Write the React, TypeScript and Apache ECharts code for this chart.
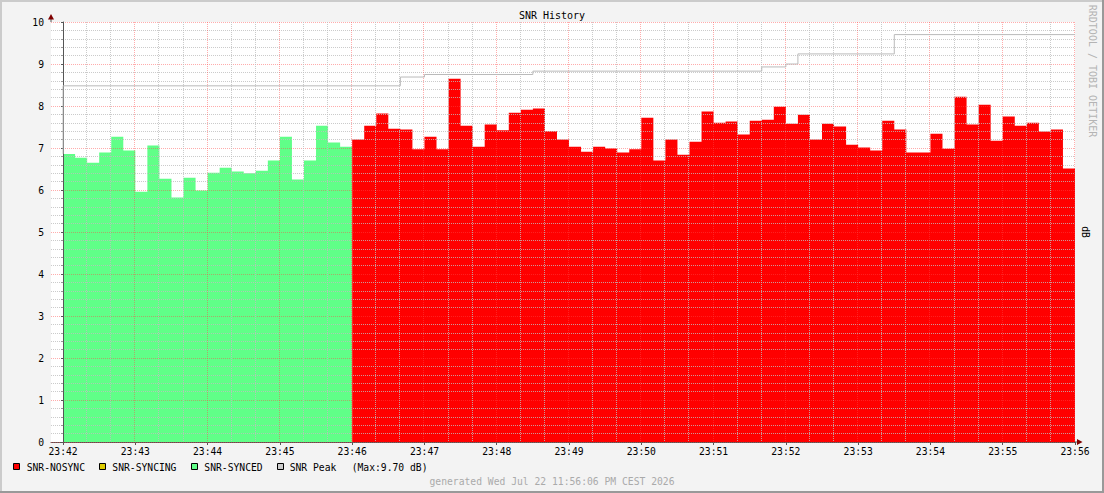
import React, { useEffect, useRef } from "react";
import * as echarts from "echarts";

const FONT = "'DejaVu Sans Mono', monospace";

// seconds per sample (10 s steps); x values are seconds after 23:42:00
const STEP = 10;

// SNR-SYNCED samples, 23:42:00 .. 23:46:00
const syncedSNR = [
  6.86, 6.77, 6.65, 6.89, 7.27, 6.94, 5.96, 7.06, 6.27, 5.82, 6.29, 5.99,
  6.41, 6.53, 6.44, 6.4, 6.46, 6.7, 7.27, 6.25, 6.7, 7.53, 7.13, 7.03,
];

// SNR-NOSYNC samples, 23:46:00 .. 23:56:00
const nosyncSNR = [
  7.2, 7.53, 7.82, 7.46, 7.44, 6.97, 7.27, 6.97, 8.65, 7.53,
  7.03, 7.56, 7.42, 7.84, 7.91, 7.94, 7.4, 7.2, 7.03, 6.91,
  7.03, 6.99, 6.89, 6.97, 7.72, 6.7, 7.2, 6.84, 7.15, 7.87,
  7.6, 7.63, 7.32, 7.65, 7.67, 7.98, 7.58, 7.79, 7.2, 7.58,
  7.51, 7.08, 7.01, 6.94, 7.65, 7.44, 6.89, 6.89, 7.34, 6.98,
  8.22, 7.56, 8.03, 7.17, 7.75, 7.53, 7.6, 7.39, 7.44, 6.51,
];

// SNR-SYNCING: no samples in this window
const syncingSNR: number[] = [];

// SNR Peak step line: change times (s after 23:42:00) and values
const peakTimes = [0, 280, 300, 390, 580, 600, 610, 690, 840];
const peakValues = [8.48, 8.69, 8.75, 8.83, 8.93, 9.0, 9.24, 9.7, 9.7];

const xTickLabels = [
  "23:42", "23:43", "23:44", "23:45", "23:46", "23:47", "23:48", "23:49",
  "23:50", "23:51", "23:52", "23:53", "23:54", "23:55", "23:56",
];

const legendNames = ["SNR-NOSYNC", "SNR-SYNCING", "SNR-SYNCED", "SNR Peak"];
const legendColors = ["#FF0000", "#DDCC00", "#60FF88", "#CCCCCC"];

const titleText = "SNR History";
const unitText = "dB";
const watermarkText = "RRDTOOL / TOBI OETIKER";
const generatedText = "generated Wed Jul 22 11:56:06 PM CEST 2026";

const MAJOR = "rgba(255,70,70,0.45)";
const MINOR = "rgba(190,190,190,0.8)";

export default function App() {
  const ref = useRef<HTMLDivElement>(null);

  useEffect(() => {
    if (!ref.current) return;
    const chart = echarts.init(ref.current, null, { renderer: "svg" });

    const greenData: number[][] = syncedSNR.map((v, i) => [i * STEP, v]);
    greenData.push([syncedSNR.length * STEP, syncedSNR[syncedSNR.length - 1]]);
    const redStart = syncedSNR.length * STEP;
    const redData: number[][] = nosyncSNR.map((v, i) => [redStart + i * STEP, v]);
    redData.push([redStart + nosyncSNR.length * STEP, nosyncSNR[nosyncSNR.length - 1]]);
    const yellowData: number[][] = syncingSNR.map((v, i) => [i * STEP, v]);
    const peakData: number[][] = [[0, syncedSNR[0]], ...peakTimes.map((t, i) => [t, peakValues[i]])];

    const majorTicks = xTickLabels.map((_, i) => i * 60);
    const gridData: number[][] = [];
    for (let s = 20; s < 840; s += 20) if (s % 60 !== 0) gridData.push([s, 0, 0]);
    majorTicks.forEach((s) => {
      if (s > 0) gridData.push([s, 0, 1]);
    });

    const legendX = [13.5, 99.5, 191.5, 277.5];
    const legendTextX = [26.7, 112.3, 204.3, 289.7];
    const legendGraphics: any[] = [];
    legendNames.forEach((name, i) => {
      legendGraphics.push({
        type: "rect",
        shape: { x: legendX[i], y: 463.5, width: 6, height: 6 },
        style: { fill: legendColors[i], stroke: "#000", lineWidth: 1 },
        silent: true,
      });
      legendGraphics.push({
        type: "text",
        x: legendTextX[i],
        y: 467,
        style: { text: name, fill: "#000", font: `9.7px ${FONT}`, align: "left", verticalAlign: "middle" },
        silent: true,
      });
    });
    legendGraphics.push({
      type: "text",
      x: 351.7,
      y: 467,
      style: {
        text: `(Max:${Math.max(...peakValues).toFixed(2)} dB)`,
        fill: "#000",
        font: `9.7px ${FONT}`,
        align: "left",
        verticalAlign: "middle",
      },
      silent: true,
    });

    const option: any = {
      animation: false,
      backgroundColor: "#f3f3f3",
      textStyle: { fontFamily: FONT },
      grid: {
        left: 51,
        top: 22,
        width: 1024,
        height: 420,
        show: true,
        backgroundColor: "#ffffff",
        borderWidth: 0,
      },
      xAxis: {
        type: "value",
        min: -10,
        max: 840,
        axisLine: { show: true, lineStyle: { color: "#555", width: 1 } },
        axisTick: { show: true, length: 3, customValues: majorTicks, lineStyle: { color: "#555" } },
        axisLabel: {
          customValues: majorTicks,
          formatter: (v: number) => xTickLabels[Math.round(v / 60)] ?? "",
          color: "#000",
          fontSize: 9.7,
          fontFamily: FONT,
          margin: 4,
        },
        splitLine: { show: false },
      },
      yAxis: {
        type: "value",
        min: 0,
        max: 10,
        interval: 1,
        z: 3,
        axisLine: { show: true, lineStyle: { color: "#555", width: 1 } },
        axisTick: { show: true, length: 2, lineStyle: { color: "#555" } },
        minorTick: { show: true, splitNumber: 5, length: 2, lineStyle: { color: "#999" } },
        axisLabel: { color: "#000", fontSize: 9.7, fontFamily: FONT, margin: 7 },
        splitLine: { show: true, lineStyle: { color: MAJOR, type: [1, 1], width: 1 } },
        minorSplitLine: { show: true, lineStyle: { color: MINOR, type: [1, 1], width: 1 } },
      },
      series: [
        {
          name: "SNR-SYNCED",
          type: "line",
          step: "end",
          data: greenData,
          symbol: "none",
          lineStyle: { width: 0 },
          areaStyle: { color: legendColors[2], opacity: 1 },
          silent: true,
          z: 1,
        },
        {
          name: "SNR-NOSYNC",
          type: "line",
          step: "end",
          data: redData,
          symbol: "none",
          lineStyle: { width: 0 },
          areaStyle: { color: legendColors[0], opacity: 1 },
          silent: true,
          z: 1,
        },
        {
          name: "SNR-SYNCING",
          type: "line",
          step: "end",
          data: yellowData,
          symbol: "none",
          lineStyle: { width: 0 },
          areaStyle: { color: legendColors[1], opacity: 1 },
          silent: true,
          z: 1,
        },
        {
          name: "vgrid",
          type: "custom",
          data: gridData,
          encode: { x: 0, y: 1 },
          silent: true,
          clip: false,
          z: 3,
          renderItem: (params: any, api: any) => {
            const x = api.coord([api.value(0), 0])[0];
            const px = Math.round(x) - 0.5;
            const top = api.coord([0, 10])[1];
            const bottom = api.coord([0, 0])[1];
            const major = api.value(2) === 1;
            return {
              type: "line",
              shape: { x1: px, y1: top, x2: px, y2: bottom },
              style: { stroke: major ? MAJOR : MINOR, lineWidth: 1, lineDash: [1, 1], fill: null },
              silent: true,
            };
          },
        },
        {
          name: "SNR Peak",
          type: "line",
          step: "end",
          data: peakData,
          symbol: "none",
          lineStyle: { color: "#bababa", width: 1 },
          silent: true,
          z: 4,
        },
      ],
      graphic: [
        { type: "rect", shape: { x: 0, y: 0, width: 1104, height: 2 }, style: { fill: "#cbcbcb" }, silent: true },
        { type: "rect", shape: { x: 0, y: 0, width: 2, height: 493 }, style: { fill: "#cbcbcb" }, silent: true },
        { type: "rect", shape: { x: 0, y: 491, width: 1104, height: 2 }, style: { fill: "#999999" }, silent: true },
        { type: "rect", shape: { x: 1102, y: 0, width: 2, height: 493 }, style: { fill: "#999999" }, silent: true },
        { type: "line", shape: { x1: 51, y1: 22, x2: 51, y2: 17 }, style: { stroke: "#555", lineWidth: 1 }, silent: true },
        { type: "line", shape: { x1: 1075, y1: 442, x2: 1078, y2: 442 }, style: { stroke: "#555", lineWidth: 1 }, silent: true },
        { type: "polygon", shape: { points: [[48, 19.5], [51, 14], [54, 19.5]] }, style: { fill: "#7f0000" }, silent: true },
        { type: "polygon", shape: { points: [[1077, 439], [1082.5, 442], [1077, 445]] }, style: { fill: "#7f0000" }, silent: true },
        {
          type: "text",
          x: 552,
          y: 15,
          style: { text: titleText, fill: "#000", font: `10px ${FONT}`, align: "center", verticalAlign: "middle" },
          silent: true,
        },
        {
          type: "text",
          x: 1092.5,
          y: 71,
          rotation: -Math.PI / 2,
          style: { text: watermarkText, fill: "#b4b4b4", font: `10px ${FONT}`, align: "center", verticalAlign: "middle" },
          silent: true,
        },
        {
          type: "text",
          x: 1085,
          y: 232,
          rotation: -Math.PI / 2,
          style: { text: unitText, fill: "#000", font: `9.7px ${FONT}`, align: "center", verticalAlign: "middle" },
          silent: true,
        },
        ...legendGraphics,
        {
          type: "text",
          x: 552,
          y: 481,
          style: { text: generatedText, fill: "#aaaaaa", font: `9.7px ${FONT}`, align: "center", verticalAlign: "middle" },
          silent: true,
        },
      ],
    };

    chart.setOption(option);
    return () => chart.dispose();
  }, []);

  return <div ref={ref} style={{ position: "absolute", left: 0, top: 0, width: 1104, height: 493 }} />;
}
